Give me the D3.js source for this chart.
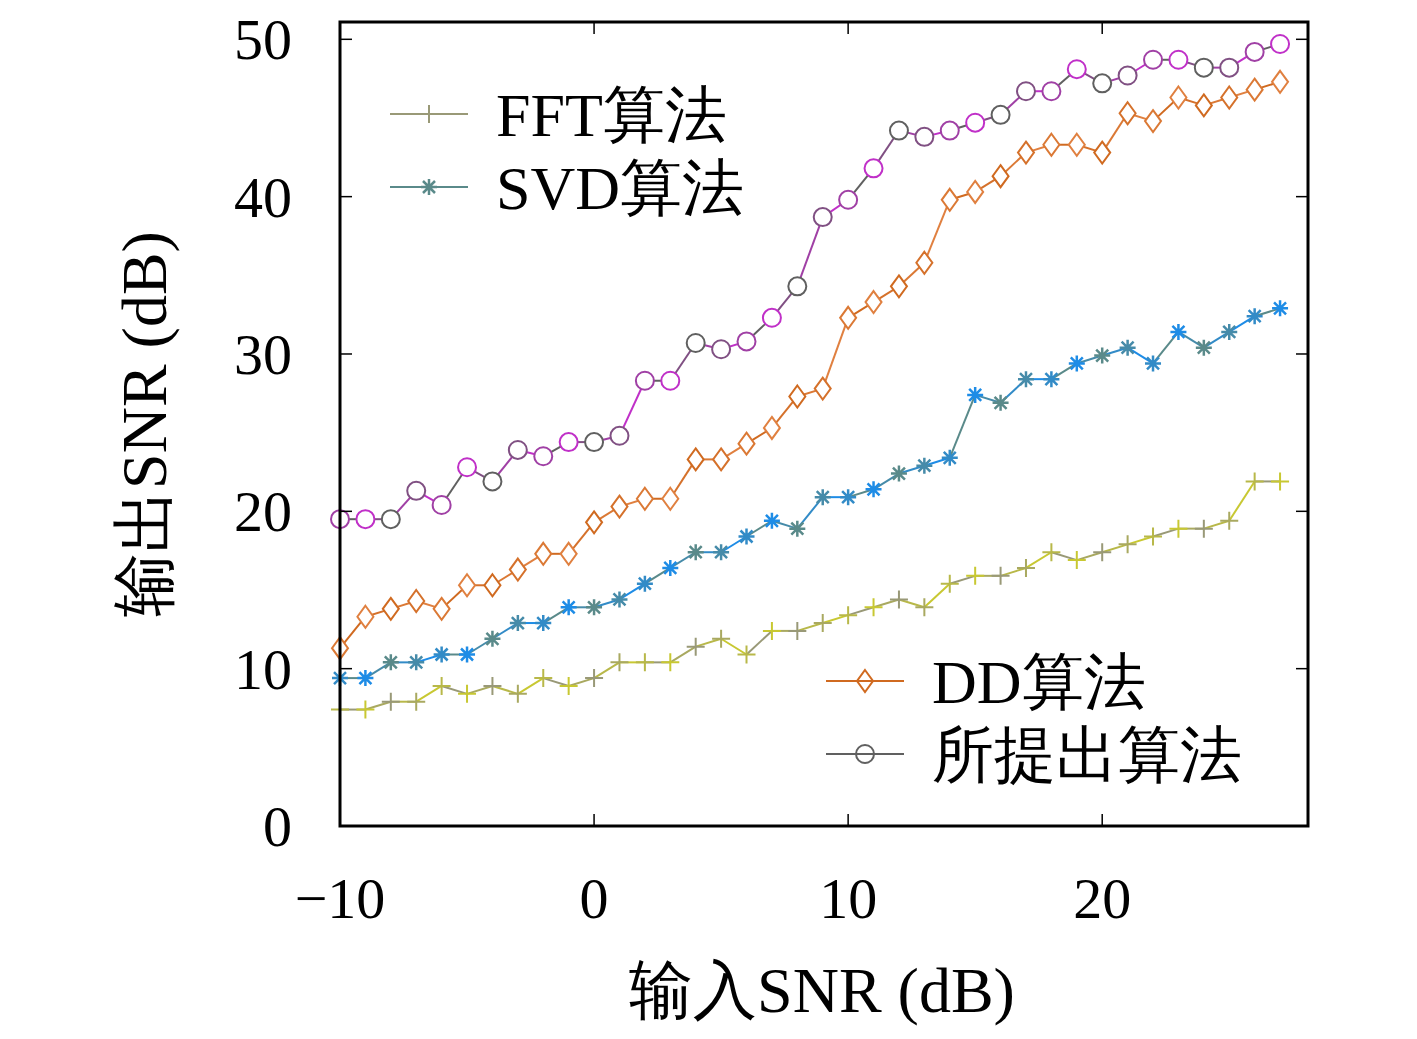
<!DOCTYPE html><html><head><meta charset="utf-8"><script src="https://cdn.jsdelivr.net/npm/d3@7"></script>
<style>body{margin:0;background:#fff}text{font-family:"Liberation Serif","DejaVu Serif",serif}</style></head><body><svg id="c" width="1417" height="1039"></svg><script>
const xs=d3.range(-10,28);
const proposed=[19.5,19.5,19.5,21.3,20.4,22.8,21.9,23.9,23.5,24.4,24.4,24.8,28.3,28.3,30.7,30.3,30.8,32.3,34.3,38.7,39.8,41.8,44.2,43.8,44.2,44.7,45.2,46.7,46.7,48.1,47.2,47.7,48.7,48.7,48.2,48.2,49.2,49.7];
const dd=[11.3,13.3,13.8,14.3,13.8,15.3,15.3,16.3,17.3,17.3,19.3,20.3,20.8,20.8,23.3,23.3,24.3,25.3,27.3,27.8,32.3,33.3,34.3,35.8,39.8,40.3,41.3,42.8,43.3,43.3,42.8,45.3,44.8,46.3,45.8,46.3,46.8,47.3];
const svd=[9.4,9.4,10.4,10.4,10.9,10.9,11.9,12.9,12.9,13.9,13.9,14.4,15.4,16.4,17.4,17.4,18.4,19.4,18.9,20.9,20.9,21.4,22.4,22.9,23.4,27.4,26.9,28.4,28.4,29.4,29.9,30.4,29.4,31.4,30.4,31.4,32.4,32.9];
const fft=[7.4,7.4,7.9,7.9,8.9,8.4,8.9,8.4,9.4,8.9,9.4,10.4,10.4,10.4,11.4,11.9,10.9,12.4,12.4,12.9,13.4,13.9,14.4,13.9,15.4,15.9,15.9,16.4,17.4,16.9,17.4,17.9,18.4,18.9,18.9,19.4,21.9,21.9];
const xTicks=[-10,0,10,20], yTicks=[0,10,20,30,40,50];
const svg=d3.select("#c");
const L=340,R=1308,T=22,B=826;
const x=d3.scaleLinear().domain([-10,28.1]).range([L,R]);
const y=d3.scaleLinear().domain([0,51.1]).range([B,T]);
const g=svg.append("g");
function draw(vals,c1,c2,marker){
  for(let i=0;i<vals.length-1;i++){
    g.append("line").attr("x1",x(xs[i])).attr("y1",y(vals[i])).attr("x2",x(xs[i+1])).attr("y2",y(vals[i+1]))
     .attr("stroke",d3.interpolateRgb(c1,c2)((i%4)/3)).attr("stroke-width",2);
  }
  vals.forEach((v,i)=>marker(x(xs[i]),y(v),d3.interpolateRgb(c1,c2)(((i+2)%4)/3)));
}
const plus=(cx,cy,c)=>g.append("path").attr("d",`M${cx-9},${cy}H${cx+9}M${cx},${cy-9}V${cy+9}`).attr("stroke",c).attr("stroke-width",2);
const star=(cx,cy,c)=>g.append("path").attr("d",`M${cx-8},${cy}H${cx+8}M${cx},${cy-8}V${cy+8}M${cx-6},${cy-6}L${cx+6},${cy+6}M${cx-6},${cy+6}L${cx+6},${cy-6}`).attr("stroke",c).attr("stroke-width",2.5);
const diamond=(cx,cy,c)=>g.append("path").attr("d",`M${cx},${cy-11}L${cx+8},${cy}L${cx},${cy+11}L${cx-8},${cy}Z`).attr("fill","#fff").attr("stroke",c).attr("stroke-width",2);
const circ=(cx,cy,c)=>g.append("circle").attr("cx",cx).attr("cy",cy).attr("r",9).attr("fill","#fff").attr("stroke",c).attr("stroke-width",2);
draw(fft,"#999977","#c8c832",plus);
draw(svd,"#5a8a8a","#1e8ce6",star);
draw(dd,"#d06a20","#e08040",diamond);
draw(proposed,"#606060","#c030c8",circ);
svg.append("rect").attr("x",L).attr("y",T).attr("width",R-L).attr("height",B-T).attr("fill","none").attr("stroke","#000").attr("stroke-width",3);
xTicks.forEach(t=>{[B,T].forEach((yy,k)=>svg.append("line").attr("x1",x(t)).attr("x2",x(t)).attr("y1",yy).attr("y2",k?yy+12:yy-12).attr("stroke","#000").attr("stroke-width",1.5));
  svg.append("text").attr("x",x(t)).attr("y",918).attr("text-anchor","middle").attr("font-size",58).text(t<0?"\u2212"+(-t):t);});
yTicks.forEach(t=>{[L,R].forEach((xx,k)=>svg.append("line").attr("x1",xx).attr("x2",k?xx-12:xx+12).attr("y1",y(t)).attr("y2",y(t)).attr("stroke","#000").attr("stroke-width",1.5));
  svg.append("text").attr("x",292).attr("y",y(t)+20).attr("text-anchor","end").attr("font-size",58).text(t);});
svg.append("text").attr("x",822).attr("y",1012).attr("text-anchor","middle").attr("font-size",64).text("输入SNR (dB)");
svg.append("text").attr("transform","translate(166,424) rotate(-90)").attr("text-anchor","middle").attr("font-size",64).text("输出SNR (dB)");
function leg(lx,ly,c,m,label){svg.append("line").attr("x1",lx).attr("x2",lx+78).attr("y1",ly).attr("y2",ly).attr("stroke",c).attr("stroke-width",2);
  m(lx+39,ly,c); svg.append("text").attr("x",lx+106).attr("y",ly+22).attr("font-size",62).text(label);}
leg(390,114,"#999977",plus,"FFT算法");
leg(390,187,"#5a8a8a",star,"SVD算法");
leg(826,681,"#d06a20",diamond,"DD算法");
leg(826,754,"#606060",circ,"所提出算法");
</script></body></html>
